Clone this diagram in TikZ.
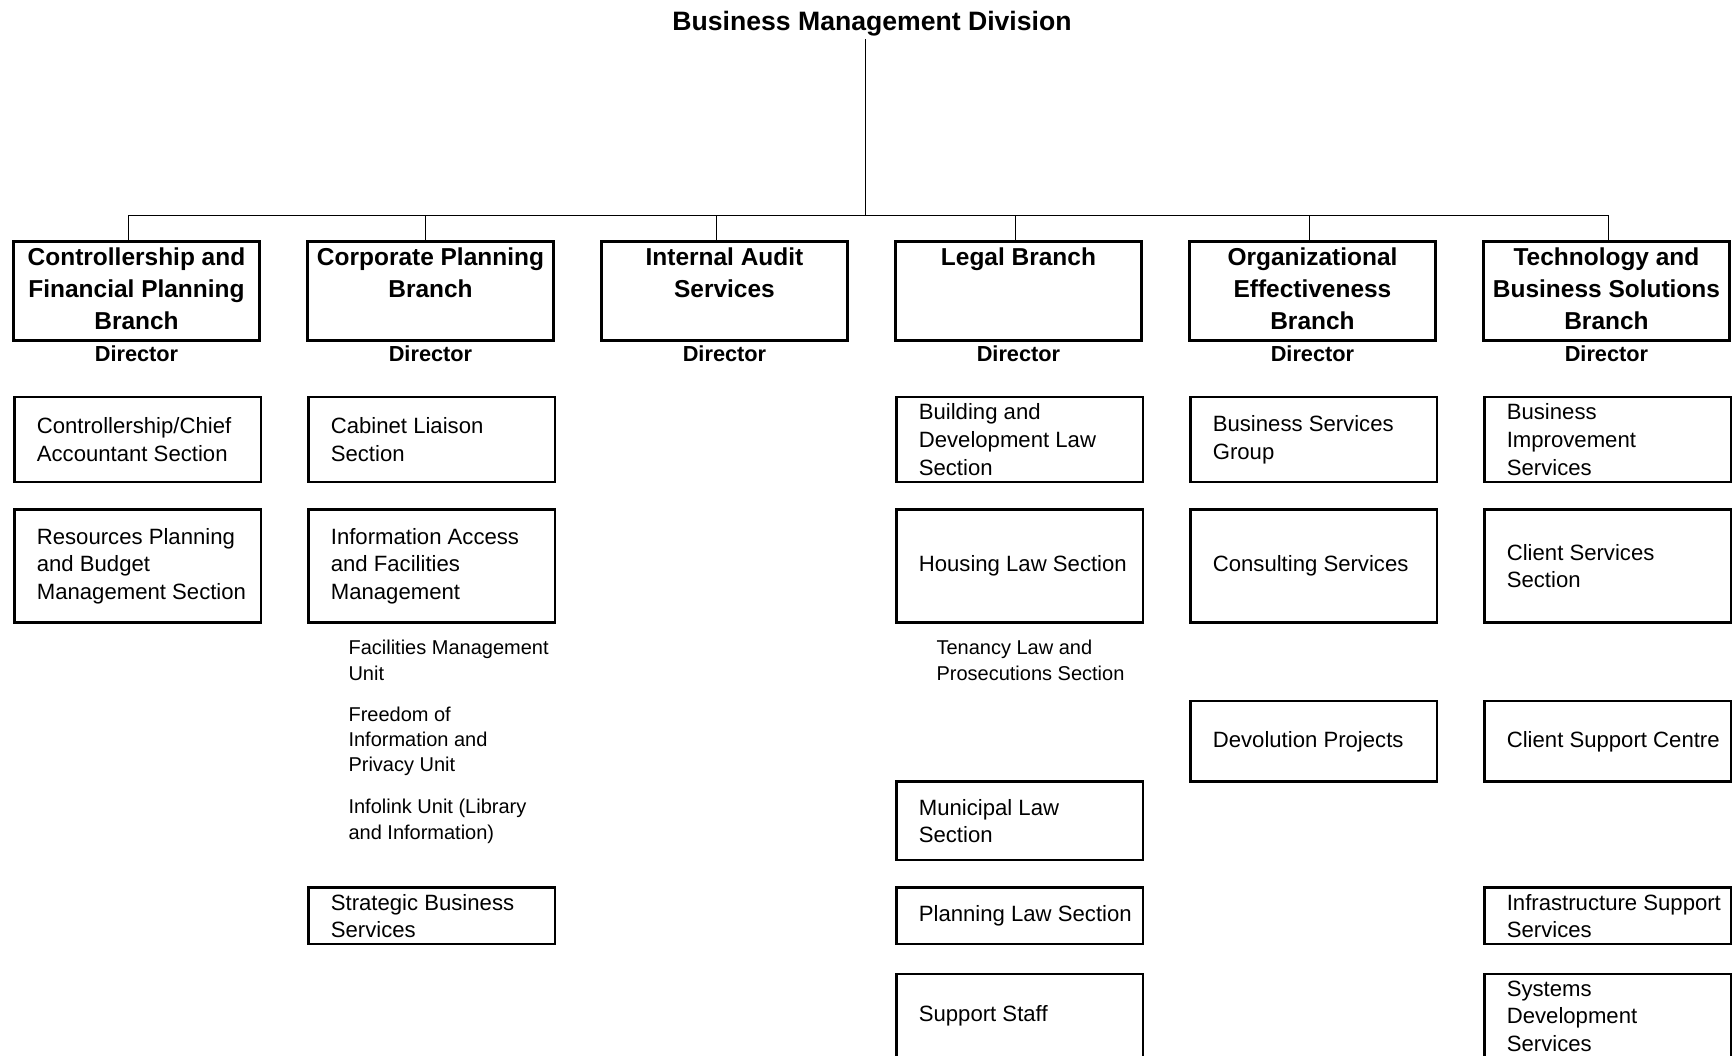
\documentclass[tikz,border=0pt]{standalone}
\usepackage{fontspec}
\setmainfont{Liberation Sans}
\usepackage{tikz}
\newcommand{\headfont}{\fontsize{12.6}{16.5}\selectfont\bfseries}
\newcommand{\unitfont}{\fontsize{11.4}{14.2}\selectfont}
\newcommand{\subfont}{\fontsize{10.3}{13}\selectfont}
\tikzset{
  branchbox/.style={draw, line width=1.4pt, minimum width=4.46cm, minimum height=1.8cm, inner sep=0pt, anchor=north},
  unitbox/.style={draw, line width=1.4pt, minimum width=4.46cm, inner sep=0pt, anchor=north west},
  branchtext/.style={anchor=north, align=center, inner sep=0pt, font=\headfont},
  unittext/.style={anchor=west, align=left, inner sep=0pt, font=\unitfont},
  subtext/.style={anchor=north west, align=left, inner sep=0pt, font=\subfont},
  director/.style={anchor=north, inner sep=0pt, font=\fontsize{11.2}{13}\selectfont\bfseries},
  link/.style={line width=0.6pt}
}
\newcommand{\branch}[3]{
\node[branchbox] (#1) at ({266*#2-142.5},217) {};
\node[branchtext] (#1txt) at ([yshift=-0.14cm]#1.north) {#3};
\node[director] (#1dir) at ([yshift=-0.06cm]#1.south) {Director};
}
\newcommand{\unitbox}[5]{
\node[unitbox, minimum height=#4*0.02cm] (#1) at ({266*#2-254},#3) {};
\node[unittext] (#1txt) at ([xshift=0.42cm]#1.west) {#5};
}
\newcommand{\subunit}[4]{\node[subtext] (#1) at ({266*#2-217},#3) {#4};}
\begin{document}
\begin{tikzpicture}[x=0.02cm,y=-0.02cm]
\useasboundingbox (0,0) rectangle (1568,955);
\fill[white] (0,0) rectangle (1568,955);
\node[anchor=north, inner sep=0pt, font=\fontsize{13.7}{16}\selectfont\bfseries] (bmd) at (789,10) {Business Management Division};
\branch{cfp}{1}{Controllership and\\Financial Planning\\Branch}
\branch{cpb}{2}{Corporate Planning\\Branch}
\branch{ias}{3}{Internal Audit\\Services}
\branch{leg}{4}{Legal Branch}
\branch{oeb}{5}{Organizational\\Effectiveness\\Branch}
\branch{tbs}{6}{Technology and\\Business Solutions\\Branch}
\coordinate (hub) at (783,195);
\draw[link] (hub) -- ([yshift=-0.04cm]hub |- bmd.south);
\draw[link] ([xshift=-0.15cm]cfp.north |- hub) -- ([xshift=0.04cm]tbs.north |- hub);
\foreach \b/\dx in {cfp/-7.5,cpb/-4.5,ias/-7.5,leg/-2.5,oeb/-3,tbs/2}
  \draw[link] ([xshift=\dx*0.02cm]\b.north) -- ([xshift=\dx*0.02cm]\b.north |- hub);
\unitbox{cfpa}{1}{358}{77}{Controllership/Chief\\Accountant Section}
\unitbox{cfpb}{1}{460}{102}{Resources Planning\\and Budget\\Management Section}
\unitbox{cpba}{2}{358}{77}{Cabinet Liaison\\Section}
\unitbox{cpbb}{2}{460}{102}{Information Access\\and Facilities\\Management}
\subunit{fmu}{2}{579}{Facilities Management\\Unit}
\subunit{foi}{2}{639}{Freedom of\\Information and\\Privacy Unit}
\subunit{ilu}{2}{723}{Infolink Unit (Library\\and Information)}
\unitbox{cpbc}{2}{802}{51}{Strategic Business\\Services}
\unitbox{lega}{4}{358}{77}{Building and\\Development Law\\Section}
\unitbox{legb}{4}{460}{102}{Housing Law Section}
\subunit{tlp}{4}{579}{Tenancy Law and\\Prosecutions Section}
\unitbox{legc}{4}{706}{71}{Municipal Law\\Section}
\unitbox{legd}{4}{802}{51}{Planning Law Section}
\unitbox{lege}{4}{880}{76}{Support Staff}
\unitbox{oeba}{5}{358}{77}{Business Services\\Group}
\unitbox{oebb}{5}{460}{102}{Consulting Services}
\unitbox{oebc}{5}{633}{73}{Devolution Projects}
\unitbox{tbsa}{6}{358}{77}{Business\\Improvement\\Services}
\unitbox{tbsb}{6}{460}{102}{Client Services\\Section}
\unitbox{tbsc}{6}{633}{73}{Client Support Centre}
\unitbox{tbsd}{6}{802}{51}{Infrastructure Support\\Services}
\unitbox{tbse}{6}{880}{76}{Systems\\Development\\Services}
\end{tikzpicture}
\end{document}
